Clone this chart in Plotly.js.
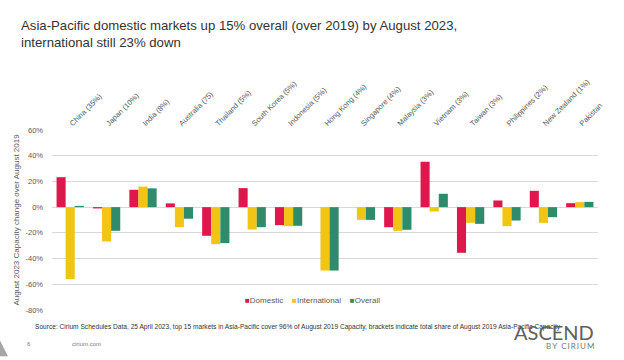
<!DOCTYPE html>
<html>
<head>
<meta charset="utf-8">
<script src="https://cdn.plot.ly/plotly-3.0.1.min.js"></script>
<style>html,body{margin:0;padding:0;background:#fff;}#chart{width:624px;height:360px;}</style>
</head>
<body>
<div id="chart"></div>
<script>
const categories = ['China (35%)','Japan (10%)','India (8%)','Australia (75)','Thailand (5%)','South Korea (5%)','Indonesia (5%)','Hong Kong (4%)','Singapore (4%)','Malaysia (3%)','Vietnam (3%)','Taiwan (3%)','Philippines (2%)','New Zealand (1%)','Pakistan'];
const domestic =      [23.3, -1.0, 13.5,   2.9, -22.3, 14.8, -14.0,  null, null, -15.6, 35.3, -35.5,   5.2,  12.7, 3.1];
const international = [-56.0, -26.7, 16.0, -15.6, -28.8, -17.4, -14.8, -49.3, -9.9, -18.4, -3.4, -12.2, -14.8, -12.2, 3.9];
const overall =       [1.0, -18.4, 14.6,  -9.0, -28.0, -15.6, -14.5, -49.3, -9.9, -17.6, 10.4, -13.0, -10.4,  -7.8, 4.1];
const seriesNames = ['Domestic','International','Overall'];
const seriesColors = ['#E0174D','#F2C415','#2E8B6B'];
const yTicks = [-80,-60,-40,-20,0,20,40,60];

const font = 'Liberation Sans, Arial, sans-serif';
const gray = '#595959';
const L = 52, R = 598, T = 129.5, B = 309.6;
const px = x => (x - L) / (R - L);
const py = y => (B - y) / (B - T);

const data = [domestic, international, overall].map((v, i) => ({
  type: 'bar', name: seriesNames[i], x: categories, y: v,
  marker: {color: seriesColors[i]},
  showlegend: false
}));

// legend drawn as one line of text with coloured squares
const legendText = seriesNames.map((n, i) =>
  '<span style="color:' + seriesColors[i] + '">\u25A0</span>' + n).join('    ');

const layout = {
  width: 624, height: 360,
  margin: {l: L, r: 624 - R, t: T, b: 360 - B},
  paper_bgcolor: '#fff', plot_bgcolor: '#fff',
  font: {family: font, color: gray},
  barmode: 'group', bargap: 0.25, bargroupgap: 0,
  title: {
    text: 'Asia-Pacific domestic markets up 15% overall (over 2019) by August 2023,<br>international still 23% down',
    x: 21/624, xanchor: 'left', xref: 'container', yref: 'container', y: 1 - 30/360, yanchor: 'top',
    font: {family: font, size: 13.2, color: '#333333'}
  },
  xaxis: {
    side: 'top', tickangle: -45, tickfont: {size: 7.5, color: gray},
    showgrid: false, showline: false, ticks: '', fixedrange: true
  },
  yaxis: {
    range: [-80, 60], tickvals: yTicks, ticktext: yTicks.map(v => v + '%'),
    tickfont: {size: 7.5, color: gray}, gridcolor: '#d9d9d9', gridwidth: 1,
    zeroline: true, zerolinecolor: '#d9d9d9', zerolinewidth: 1,
    showline: false, ticks: '', ticklabelstandoff: 8,
    title: {text: 'August 2023 Capacity change over August 2019', font: {size: 8, color: gray}, standoff: 4}
  },
  showlegend: false,
  annotations: [
    {text: legendText, xref: 'paper', yref: 'paper', x: px(312), y: py(300), xanchor: 'center', yanchor: 'middle',
     showarrow: false, font: {size: 8, color: gray}},
    {text: 'Source: Cirium Schedules Data, 25 April 2023, top 15 markets in Asia-Pacific cover 96% of August 2019 Capacity, brackets indicate total share of August 2019 Asia-Pacific Capacity',
     xref: 'paper', yref: 'paper', x: px(33), y: py(327), xanchor: 'left', yanchor: 'middle', showarrow: false,
     font: {size: 6.6, color: '#333333'}},
    {text: '6', xref: 'paper', yref: 'paper', x: px(25), y: py(344), xanchor: 'left', yanchor: 'middle', showarrow: false,
     font: {size: 6, color: '#777'}},
    {text: 'cirium.com', xref: 'paper', yref: 'paper', x: px(70), y: py(344), xanchor: 'left', yanchor: 'middle', showarrow: false,
     font: {size: 6, color: '#777'}},
    {text: 'ASCEND', xref: 'paper', yref: 'paper', x: px(596), y: py(332), xanchor: 'right', yanchor: 'middle', showarrow: false,
     font: {family: 'Lato, Open Sans, sans-serif', size: 20, color: '#606060'}},
    {text: 'B\u2009Y\u2009 \u2009C\u2009I\u2009R\u2009I\u2009U\u2009M', xref: 'paper', yref: 'paper', x: px(596), y: py(346), xanchor: 'right', yanchor: 'middle', showarrow: false,
     font: {family: 'Lato, Open Sans, sans-serif', size: 8, color: '#777777'}}
  ],
  shapes: [
    {type: 'path', xref: 'paper', yref: 'paper',
     path: 'M ' + px(0) + ' ' + py(340) + ' L ' + px(8) + ' ' + py(356) + ' L ' + px(0) + ' ' + py(356) + ' Z',
     fillcolor: '#a6a6a6', line: {width: 0}}
  ]
};

Plotly.newPlot('chart', data, layout, {displayModeBar: false, staticPlot: true});
</script>
</body>
</html>
